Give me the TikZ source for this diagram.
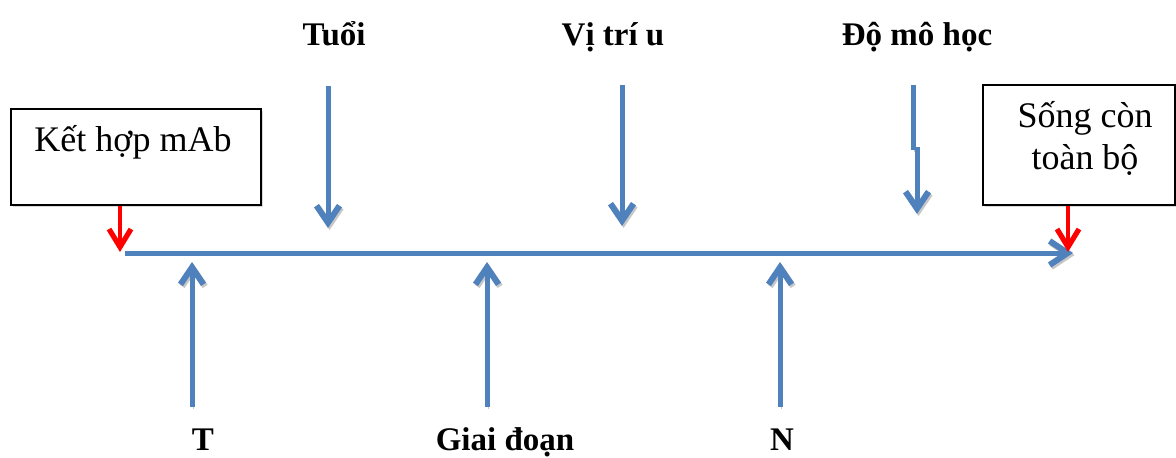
\documentclass[tikz,border=0pt]{standalone}
\usepackage{fontspec}
\setmainfont{Liberation Serif}
\usetikzlibrary{arrows.meta}
\definecolor{flowblue}{RGB}{79,129,189}
\definecolor{hitred}{RGB}{255,0,0}
\tikzset{
  shade/.style={preaction={draw=black!22, transform canvas={shift={(0.8pt,-1pt)}}}},
  factor/.style={draw=flowblue, line width=2.5pt, line cap=butt, shade,
    -{Straight Barb[length=8.5pt, width=11.5pt, line width=3pt]}},
  timeline/.style={draw=flowblue, line width=2.5pt, line cap=butt, shade,
    -{Straight Barb[length=9pt, width=12pt, line width=3pt]}},
  hit/.style={draw=hitred, line width=2pt, line cap=butt,
    -{Straight Barb[length=9pt, width=11pt, line width=2.6pt]}},
  endbox/.style={draw=black, line width=1pt, fill=white, inner sep=0pt,
    preaction={fill=black!15, transform canvas={shift={(0.8pt,-0.8pt)}}}},
  boxtext/.style={font=\fontsize{18}{21}\selectfont, align=center, inner sep=0pt},
  factorlabel/.style={font=\fontsize{16.5}{20}\selectfont\bfseries, inner sep=0pt, anchor=base}
}
\begin{document}
\begin{tikzpicture}[x=0.5pt, y=-0.5pt]
  \useasboundingbox (0,0) rectangle (1176,457);

  % end-point boxes
  \node[endbox, minimum width=125pt, minimum height=48pt] (bind) at (136,157) {};
  \node[boxtext] (bindtxt) at (133,142) {Kết hợp mAb};
  \node[endbox, minimum width=96pt, minimum height=60pt] (surv) at (1079,145) {};
  \node[boxtext] (survtxt) at (1085,138) {Sống còn\\toàn bộ};

  % factor labels
  \node[factorlabel] (age)   at (334,45)  {Tuổi};
  \node[factorlabel] (site)  at (613,45)  {Vị trí u};
  \node[factorlabel] (grade) at (917,45)  {Độ mô học};
  \node[factorlabel] (tstage) at (203,450) {T};
  \node[factorlabel] (stage)  at (505,450) {Giai đoạn};
  \node[factorlabel] (nstage) at (782,450) {N};

  % arrow end points
  \coordinate (mainL) at (125,253);
  \coordinate (mainR) at (1073,253);
  \coordinate (ageA)  at (328,86);  \coordinate (ageB)  at (328,228);
  \coordinate (siteA) at (622,85);  \coordinate (siteB) at (622,226);
  \coordinate (gradeA) at (913,85); \coordinate (gradeM) at (913,150);
  \coordinate (gradeN) at (917,147); \coordinate (gradeB) at (917,214);
  \coordinate (tA) at (192,407);     \coordinate (tB) at (192,262);
  \coordinate (stA) at (487,407);    \coordinate (stB) at (487,262);
  \coordinate (nA) at (780,407);     \coordinate (nB) at (780,262);
  \coordinate (hitL) at (120,252);
  \coordinate (hitR) at (1068,252);

  % time line
  \draw[timeline] (mainL) -- (mainR);

  % factors acting from above
  \draw[factor] (ageA) -- (ageB);
  \draw[factor] (siteA) -- (siteB);
  \draw[draw=flowblue, line width=2.5pt, line cap=butt, shade] (gradeA) -- (gradeM);
  \draw[factor] (gradeN) -- (gradeB);

  % factors acting from below
  \draw[factor] (tA) -- (tB);
  \draw[factor] (stA) -- (stB);
  \draw[factor] (nA) -- (nB);

  % start and end markers
  \draw[hit] (hitL |- bind.south) -- (hitL);
  \draw[hit] (hitR |- surv.south) -- (hitR);
\end{tikzpicture}
\end{document}
